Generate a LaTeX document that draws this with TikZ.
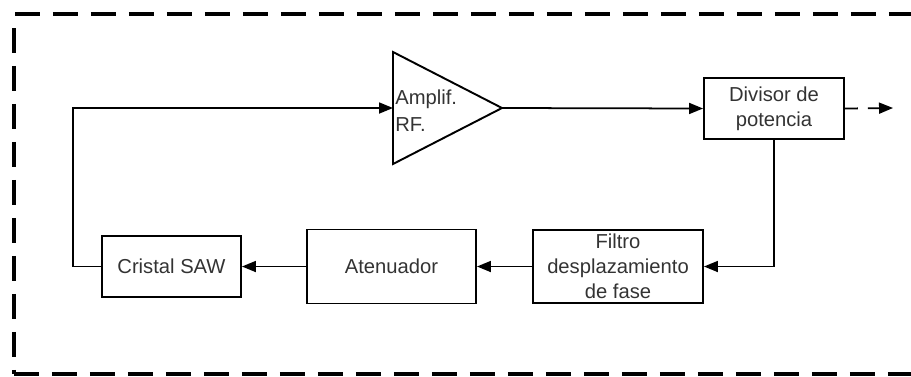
\documentclass[tikz,border=0pt]{standalone}
\usepackage{fontspec}
\setmainfont{Liberation Sans}
\usetikzlibrary{arrows.meta,positioning}

\begin{document}
\begin{tikzpicture}[x=0.02cm, y=-0.02cm,
  font=\fontsize{11.5}{14.2}\selectfont,
  block/.style={draw, line width=1.1pt, inner sep=0pt, align=center, text=black!80},
  link/.style={line width=1pt, -{Triangle[length=0.28cm, width=0.22cm]}},
  frame/.style={line width=2pt, dash pattern=on 0.5cm off 0.26cm}]
  \useasboundingbox (0,0) rectangle (911,376);

  % dashed frame round the oscillator
  \draw[frame] (15,14) -- (911,14);
  \draw[frame] (14,28) -- (14,374);
  \draw[frame] (14,374) -- (911,374);

  % blocks
  \node[block, minimum width=2.78cm, minimum height=1.22cm] (saw) at (171.5,266.5) {Cristal SAW};
  \node[block, minimum width=3.38cm, minimum height=1.48cm] (aten) at (391.5,266.5) {Atenuador};
  \node[block, minimum width=3.40cm, minimum height=1.46cm] (filt) at (618,266.5) {Filtro\\desplazamiento\\de fase};
  \node[block, minimum width=2.80cm, minimum height=1.22cm] (div) at (774,108.5) {Divisor de\\potencia};

  % amplifier triangle
  \coordinate (amp-in) at (393,108);
  \coordinate (amp-out) at (502,108);
  \draw[line width=1.1pt] (393,52) -- (amp-out) -- (393,164) -- cycle;
  \node[anchor=west, inner sep=0pt, align=left, text=black!80,
        font=\fontsize{11.5}{15.5}\selectfont] (amptxt) at (395,111) {Amplif.\\RF.};

  % loop connectors
  \coordinate (ret) at (73,108);
  \draw[link] (amp-out) -- (div.west);
  \draw[link] (div.south) |- (filt.east);
  \draw[link] (filt.west) -- (aten.east);
  \draw[link] (aten.west) -- (saw.east);
  \draw[link] (saw.west) -| (ret) -- (amp-in);

  % output to the next stage
  \coordinate (out) at (893,108);
  \draw[link, dash pattern=on 0.26cm off 0.2cm] (div.east) -- (out);
\end{tikzpicture}
\end{document}
